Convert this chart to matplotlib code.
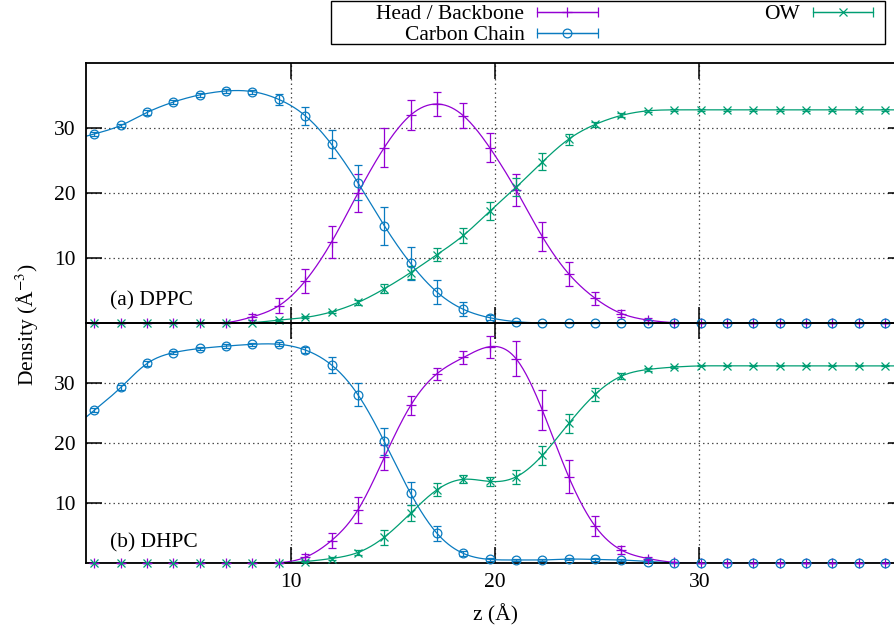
import numpy as np
import matplotlib
matplotlib.use("Agg")
import matplotlib.pyplot as plt
from matplotlib.patches import Rectangle
from matplotlib.container import ErrorbarContainer
from matplotlib.legend_handler import HandlerErrorbar

plt.rcParams['font.family'] = ['Liberation Serif', 'DejaVu Serif']
plt.rcParams['mathtext.fontset'] = 'stix'

# bin centres along z (Angstrom)
z = np.array([0.39, 1.68, 2.97, 4.26, 5.55, 6.84, 8.13, 9.42, 10.71, 12.00,
              13.29, 14.58, 15.87, 17.16, 18.45, 19.74, 21.03, 22.32, 23.61,
              24.90, 26.19, 27.48, 28.77, 30.06, 31.35, 32.64, 33.93, 35.22,
              36.51, 37.80, 39.09])

# (a) DPPC
dppc_head = [0, 0, 0, 0, 0, 0.1, 1.0, 2.7, 6.5, 12.5, 20.0, 27.0, 32.0, 33.7, 31.9,
             27.0, 20.5, 13.3, 7.6, 3.85, 1.5, 0.5, 0.1, 0, 0, 0, 0, 0, 0, 0, 0]
dppc_head_err = [0, 0, 0, 0, 0, 0.1, 0.5, 1.15, 1.8, 2.5, 2.9, 2.95, 2.3, 1.8, 1.9,
                 2.2, 2.4, 2.25, 1.8, 1.0, 0.6, 0.3, 0.1, 0, 0, 0, 0, 0, 0, 0, 0]
dppc_carbon = [29.1, 30.4, 32.4, 34.0, 35.1, 35.7, 35.6, 34.4, 31.9, 27.5, 21.6, 15.0,
               9.2, 4.8, 2.15, 0.86, 0.25, 0.05, 0, 0, 0, 0, 0, 0, 0, 0, 0, 0, 0, 0, 0]
dppc_carbon_err = [0.3, 0.3, 0.4, 0.35, 0.3, 0.25, 0.3, 0.8, 1.4, 2.15, 2.7, 2.9, 2.5,
                   1.85, 1.05, 0.4, 0.15, 0.05, 0, 0, 0, 0, 0, 0, 0, 0, 0, 0, 0, 0, 0]
dppc_ow = [0, 0, 0, 0, 0, 0, 0.1, 0.5, 0.9, 1.75, 3.2, 5.3, 7.8, 10.55, 13.5, 17.2,
           20.9, 24.8, 28.3, 30.55, 31.95, 32.65, 32.8, 32.8, 32.8, 32.8, 32.8, 32.8,
           32.8, 32.8, 32.8]
dppc_ow_err = [0, 0, 0, 0, 0, 0, 0.05, 0.1, 0.15, 0.2, 0.4, 0.7, 1.0, 1.0, 1.2, 1.4,
               1.4, 1.3, 0.85, 0.4, 0.3, 0.15, 0.1, 0.1, 0.1, 0.1, 0.1, 0.1, 0.1, 0.1, 0.1]

# (b) DHPC
dhpc_head = [0, 0, 0, 0, 0, 0, 0, 0.1, 1.0, 3.8, 8.9, 17.65, 26.3, 31.6, 34.3, 36.1,
             34.1, 25.5, 14.4, 6.2, 2.2, 0.8, 0.15, 0, 0, 0, 0, 0, 0, 0, 0]
dhpc_head_err = [0, 0, 0, 0, 0, 0, 0, 0.1, 0.5, 1.25, 2.2, 2.1, 1.6, 1.0, 1.1, 1.85,
                 2.9, 3.3, 2.75, 1.7, 0.7, 0.3, 0.1, 0, 0, 0, 0, 0, 0, 0, 0]
dhpc_carbon = [25.5, 29.3, 33.3, 35.1, 35.8, 36.2, 36.5, 36.5, 35.55, 33.05, 28.1, 20.3,
               11.65, 5.0, 1.65, 0.65, 0.55, 0.55, 0.7, 0.65, 0.55, 0.3, 0.05, 0, 0, 0,
               0, 0, 0, 0, 0]
dhpc_carbon_err = [0.3, 0.4, 0.4, 0.3, 0.3, 0.3, 0.25, 0.3, 0.5, 1.35, 1.95, 2.2, 1.95,
                   1.3, 0.4, 0.2, 0.15, 0.15, 0.2, 0.2, 0.15, 0.1, 0.05, 0, 0, 0, 0, 0,
                   0, 0, 0]
dhpc_ow = [0, 0, 0, 0, 0, 0, 0, 0.05, 0.3, 0.8, 1.8, 4.35, 8.35, 12.25, 14.0, 13.65,
           14.4, 18.0, 23.3, 28.15, 31.2, 32.3, 32.7, 32.9, 32.9, 32.9, 32.9, 32.9,
           32.9, 32.9, 32.9]
dhpc_ow_err = [0, 0, 0, 0, 0, 0, 0, 0.05, 0.1, 0.2, 0.4, 1.25, 1.3, 1.1, 0.7, 0.8, 1.2,
               1.55, 1.6, 1.1, 0.5, 0.2, 0.1, 0.1, 0.1, 0.1, 0.1, 0.1, 0.1, 0.1, 0.1]

labels = ["Head / Backbone", "Carbon Chain", "OW"]
c_head = '#9400d3'
c_carbon = '#0a7bc0'
c_ow = '#009e73'
fs = 15.5


def cspline(x, y, xf):
    # natural cubic spline, like gnuplot's "smooth csplines"
    x = np.asarray(x, float)
    y = np.asarray(y, float)
    n = len(x)
    h = np.diff(x)
    A = np.zeros((n, n))
    r = np.zeros(n)
    A[0, 0] = A[-1, -1] = 1
    for i in range(1, n - 1):
        A[i, i - 1] = h[i - 1]
        A[i, i] = 2 * (h[i - 1] + h[i])
        A[i, i + 1] = h[i]
        r[i] = 3 * ((y[i + 1] - y[i]) / h[i] - (y[i] - y[i - 1]) / h[i - 1])
    c = np.linalg.solve(A, r)
    b = (y[1:] - y[:-1]) / h - h * (2 * c[:-1] + c[1:]) / 3
    d = (c[1:] - c[:-1]) / (3 * h)
    i = np.clip(np.searchsorted(x, xf) - 1, 0, n - 2)
    t = xf - x[i]
    return y[i] + b[i] * t + c[i] * t ** 2 + d[i] * t ** 3


zf = np.linspace(0, 40, 800)


def draw(ax, y, err, color, marker, ms):
    ax.plot(zf, cspline(z, y, zf), color=color, lw=0.9, zorder=2)
    eb = ax.errorbar(z, y, yerr=err, fmt=marker, color=color, ms=ms, mfc='none',
                     mew=0.9, elinewidth=0.9, capsize=3, capthick=0.9, zorder=3)
    eb[0].set_clip_on(False)
    for a in eb[1]:
        a.set_clip_on(False)
    for a in eb[2]:
        a.set_clip_on(False)


fig = plt.figure(figsize=(8.94, 6.32), dpi=100)
W, H = 894.0, 632.0
ax1 = fig.add_axes([86.4 / W, 1 - 323.3 / H, 817.2 / W, 260.3 / H])
ax2 = fig.add_axes([86.4 / W, 1 - 563.3 / H, 817.2 / W, 240.0 / H])

panels = [
    (ax1, dppc_head, dppc_head_err, dppc_carbon, dppc_carbon_err, dppc_ow, dppc_ow_err, "(a) DPPC"),
    (ax2, dhpc_head, dhpc_head_err, dhpc_carbon, dhpc_carbon_err, dhpc_ow, dhpc_ow_err, "(b) DHPC"),
]

for ax, hd, hde, cb, cbe, ow, owe, name in panels:
    ax.set_facecolor('none')
    draw(ax, hd, hde, c_head, '+', 7)
    draw(ax, cb, cbe, c_carbon, 'o', 6.3)
    draw(ax, ow, owe, c_ow, 'x', 6)
    ax.set_xlim(0, 40)
    ax.set_ylim(0, 40)
    ax.set_xticks([10, 20, 30])
    ax.set_yticks([10, 20, 30])
    ax.grid(True, color='0.3', lw=0.9, linestyle=(0, (1.2, 2.4)))
    ax.set_axisbelow(True)
    ax.tick_params(direction='in', length=11.5, width=1.1, top=True, right=True,
                   labelsize=fs)
    ax.tick_params(axis='y', pad=8)
    ax.tick_params(axis='x', pad=7)
    for s in ax.spines.values():
        s.set_linewidth(1.3)
    ax.text(1.15, 2.7 if ax is ax1 else 2.6, name, fontsize=fs, va='baseline')

ax1.tick_params(labelbottom=False)

fig.text(27 / W, 1 - 325 / H, 'Density (Å$^{-3}$)', rotation=90, ha='center',
         va='center', fontsize=fs)
fig.text(495 / W, 1 - 615 / H, 'z (Å)', ha='center', va='center', fontsize=fs)

# key: proxies with horizontal error bars like gnuplot's key samples
# (a single nan point so that cap lines get created but nothing is drawn)
proxies = []
for color, marker, ms in [(c_head, '+', 7), (c_carbon, 'o', 6.3), (c_ow, 'x', 6)]:
    p = ax1.errorbar([np.nan], [np.nan], xerr=[1.0], fmt='-', marker=marker,
                     color=color, ms=ms, mfc='none', mew=0.9, lw=0.9,
                     elinewidth=0.9, capsize=3.5, capthick=1.0)
    proxies.append(p)
ax1.set_xlim(0, 40)
ax1.set_ylim(0, 40)

fig.legend(handles=proxies, labels=labels, ncol=2, loc='upper right',
           bbox_to_anchor=(873 / W, 1 - 4 / H), bbox_transform=fig.transFigure,
           borderpad=0, borderaxespad=0, frameon=False, markerfirst=False,
           handlelength=2.79, handletextpad=0.6, columnspacing=7.75,
           labelspacing=0.05, fontsize=fs,
           handler_map={ErrorbarContainer: HandlerErrorbar(xerr_size=1.4)})
fig.add_artist(Rectangle((331 / W, 1 - 44 / H), 554 / W, 43 / H,
                         transform=fig.transFigure, fill=False, lw=1.0, ec='k'))

fig.savefig("out.png", dpi=100)
